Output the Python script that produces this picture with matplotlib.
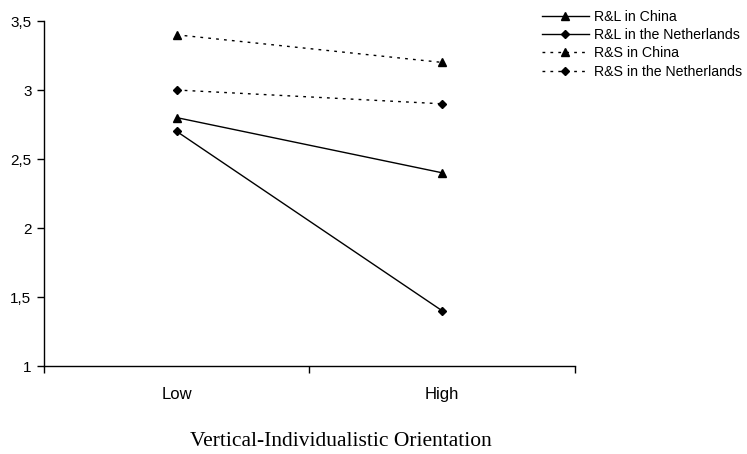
import numpy as np
import matplotlib
matplotlib.use("Agg")
import matplotlib.pyplot as plt

# Data
categories = ["Low", "High"]
rl_china = [2.8, 2.4]
rl_nl = [2.7, 1.4]
rs_china = [3.4, 3.2]
rs_nl = [3.0, 2.9]
yticks = [1, 1.5, 2, 2.5, 3, 3.5]
ytick_labels = ["1", "1,5", "2", "2,5", "3", "3,5"]

plt.rcParams['font.family'] = ['Liberation Sans', 'DejaVu Sans']

fig = plt.figure(figsize=(7.47, 4.54), dpi=100)
ax = fig.add_axes([0.0589, 0.1938, 0.7108, 0.7599])

x = np.arange(len(categories)) + 0.5
dot = (0, (2, 3.7))

ax.plot(x, rl_china, color='black', lw=1, marker='^', ms=5.5, label='R&L in China')
ax.plot(x, rl_nl, color='black', lw=1, marker='D', ms=3.8, label='R&L in the Netherlands')
ax.plot(x, rs_china, color='black', lw=1, ls=dot, marker='^', ms=5.5, label='R&S in China')
ax.plot(x, rs_nl, color='black', lw=1, ls=dot, marker='D', ms=3.8, label='R&S in the Netherlands')

ax.set_xlim(0, len(categories))
ax.set_ylim(1, 3.5)
ax.set_xticks(np.arange(len(categories) + 1))
ax.set_xticklabels([])
ax.set_xticks(x, minor=True)
ax.set_xticklabels(categories, minor=True)
ax.tick_params(axis='x', which='minor', length=0, pad=15, labelsize=12)
ax.tick_params(axis='x', which='major', length=5, direction='out', width=1)
ax.set_yticks(yticks)
ax.set_yticklabels(ytick_labels)
ax.tick_params(axis='y', length=5, width=1, labelsize=11, pad=4)

for side in ['top', 'right']:
    ax.spines[side].set_visible(False)
for side in ['left', 'bottom']:
    ax.spines[side].set_linewidth(1)

ax.set_xlabel('Vertical-Individualistic Orientation', family='Liberation Serif',
              fontsize=15.5)
ax.xaxis.set_label_coords(0.559, -0.19)

fig.legend(loc='upper left', bbox_to_anchor=(0.718, 0.991), frameon=False,
           fontsize=10.2, handlelength=3.3, handletextpad=0.4, labelspacing=0.3,
           borderaxespad=0)

fig.savefig('out.png', dpi=100)
